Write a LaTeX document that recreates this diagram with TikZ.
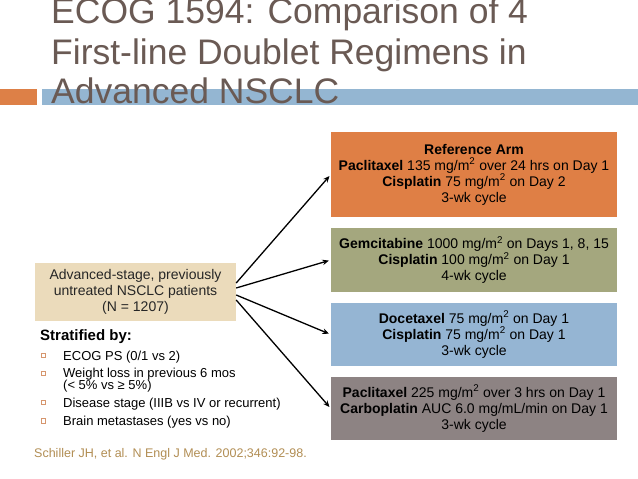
\documentclass[tikz,border=0pt]{standalone}
\usepackage{fontspec}
\setmainfont{Liberation Sans}
\usepackage{tikz}
\usetikzlibrary{arrows.meta}

\definecolor{titlec}{RGB}{106,90,84}
\definecolor{barorange}{RGB}{221,128,71}
\definecolor{barblue}{RGB}{148,182,210}
\definecolor{armorange}{RGB}{223,127,69}
\definecolor{armgreen}{RGB}{164,167,126}
\definecolor{armblue}{RGB}{149,181,211}
\definecolor{armgrey}{RGB}{141,131,131}
\definecolor{tanbox}{RGB}{235,219,187}
\definecolor{citec}{RGB}{178,142,84}
\definecolor{bulletc}{RGB}{214,150,110}

\tikzset{
	titleline/.style={anchor=base west, inner sep=0pt, text=titlec, font=\fontsize{35.5}{40}\selectfont},
	arm/.style={minimum width=286pt, inner sep=0pt, align=center, font=\fontsize{14}{16}\selectfont},
	item/.style={anchor=base west, inner sep=0pt, font=\fontsize{13}{15}\selectfont},
	splitarrow/.style={line width=1.3pt, -{Stealth[length=6.5pt,width=5.5pt]}, shorten >=2pt}
}

\begin{document}
\begin{tikzpicture}[x=1pt, y=-1pt]
			%%%%% START %%%%%
			\useasboundingbox[fill=white] (0, 0) rectangle (638, 479);
			
			\fill[barorange] (0, 89) rectangle (37, 104.5);
			\fill[barblue] (42, 89) rectangle (638, 104.5);
			
			\node[titleline] (title1) at (51, 23.5) {ECOG 1594: Comparison of 4};
			\node[titleline] (title2) at (51, 64) {First-line Doublet Regimens in};
			\node[titleline] (title3) at (51, 103.5) {Advanced NSCLC};
			
			\node[arm, fill=armorange, minimum height=85pt] (refarm) at (474, 174.5)
				{\textbf{Reference Arm}\\\textbf{Paclitaxel} 135 mg/m\textsuperscript{2} over 24 hrs on Day 1\\\textbf{Cisplatin} 75 mg/m\textsuperscript{2} on Day 2\\3-wk cycle};
			\node[arm, fill=armgreen, minimum height=64pt] (gemarm) at (474, 260)
				{\textbf{Gemcitabine} 1000 mg/m\textsuperscript{2} on Days 1, 8, 15\\\textbf{Cisplatin} 100 mg/m\textsuperscript{2} on Day 1\\4-wk cycle};
			\node[arm, fill=armblue, minimum height=63pt] (docarm) at (474, 334.5)
				{\textbf{Docetaxel} 75 mg/m\textsuperscript{2} on Day 1\\\textbf{Cisplatin} 75 mg/m\textsuperscript{2} on Day 1\\3-wk cycle};
			\node[arm, fill=armgrey, minimum height=63pt] (carboarm) at (474, 408.5)
				{\textbf{Paclitaxel} 225 mg/m\textsuperscript{2} over 3 hrs on Day 1\\\textbf{Carboplatin} AUC 6.0 mg/mL/min on Day 1\\3-wk cycle};
			
			\node[fill=tanbox, minimum width=201pt, minimum height=58pt, inner sep=0pt, align=center,
				font=\fontsize{14}{16}\selectfont, text=black!85] (patients) at (135.5, 292)
				{Advanced-stage, previously\\untreated NSCLC patients\\(N = 1207)};
			
			\draw[splitarrow] ([yshift=9pt]patients.east) -- (refarm.west);
			\draw[splitarrow] ([yshift=4pt]patients.east) -- (gemarm.west);
			\draw[splitarrow] ([yshift=-3pt]patients.east) -- (docarm.west);
			\draw[splitarrow] ([yshift=-8pt]patients.east) -- (carboarm.west);
			
			\node[anchor=base west, inner sep=0pt, font=\fontsize{15}{17}\selectfont\bfseries] (strat) at (40, 340) {Stratified by:};
			
			\draw[bulletc, line width=0.6pt] (41, 353) rectangle (45.5, 357.5);
			\draw[bulletc, line width=0.6pt] (41, 371) rectangle (45.5, 375.5);
			\draw[bulletc, line width=0.6pt] (41, 400) rectangle (45.5, 404.5);
			\draw[bulletc, line width=0.6pt] (41, 418.5) rectangle (45.5, 423);
			
			\node[item] (ecog) at (63, 360) {ECOG PS (0/1 vs 2)};
			\node[item] (weight) at (63, 377) {Weight loss in previous 6 mos};
			\node[item] (weightb) at (63, 389) {(< 5\% vs ≥ 5\%)};
			\node[item] (stage) at (63, 407) {Disease stage (IIIB vs IV or recurrent)};
			\node[item] (brain) at (63, 425) {Brain metastases (yes vs no)};
			
			\node[anchor=base west, inner sep=0pt, text=citec, font=\fontsize{12.5}{14}\selectfont] (cite) at (34, 457)
				{Schiller JH, et al. N Engl J Med. 2002;346:92-98.};
			%%%%% END %%%%%
\end{tikzpicture}
\end{document}
